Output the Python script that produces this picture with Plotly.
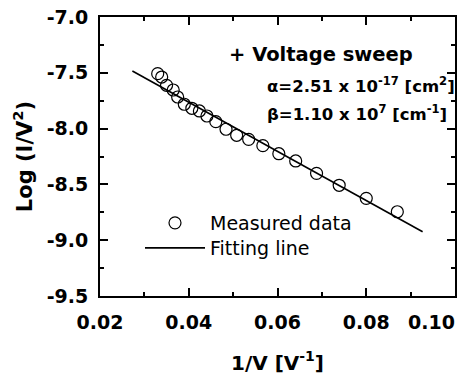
import plotly.graph_objects as go

inv_v = [0.0330, 0.0339, 0.0350, 0.0365, 0.0375, 0.0390, 0.0407, 0.0424, 0.0441, 0.0461,
         0.0484, 0.0508, 0.0535, 0.0567, 0.0603, 0.0641, 0.0688, 0.0739, 0.0800, 0.0870]
log_iv2 = [-7.508, -7.538, -7.612, -7.654, -7.717, -7.782, -7.818, -7.842, -7.887, -7.938,
           -8.006, -8.060, -8.096, -8.153, -8.225, -8.290, -8.401, -8.508, -8.625, -8.745]
fit_x = [0.0273, 0.0927]
fit_y = [-7.484, -8.924]

x_ticks = [0.02, 0.04, 0.06, 0.08, 0.10]
x_tick_labels = ["0.02", "0.04", "0.06", "0.08", "0.10"]
y_ticks = [-7.0, -7.5, -8.0, -8.5, -9.0, -9.5]
y_tick_labels = ["-7.0", "-7.5", "-8.0", "-8.5", "-9.0", "-9.5"]

FONT = "DejaVu Sans, Arial, sans-serif"

fig = go.Figure()
fig.add_trace(go.Scatter(
    x=inv_v, y=log_iv2, mode="markers", name="Measured data", legend="legend",
    marker=dict(symbol="circle-open", size=12, color="black", line=dict(width=1.2, color="black")),
))
fig.add_trace(go.Scatter(
    x=fit_x, y=fit_y, mode="lines", name="Fitting line", legend="legend2",
    line=dict(color="black", width=1.6),
))

tick_font = dict(family=FONT, size=19, color="black", weight="bold")
axis_common = dict(
    showline=True, linecolor="black", linewidth=2, mirror="allticks",
    ticks="inside", ticklen=8, tickwidth=2, tickcolor="black",
    showgrid=False, zeroline=False, automargin=False,
    tickfont=tick_font,
)

# last x tick label is drawn right-aligned to the axis end (as in the reference)
x_tick_text = x_tick_labels[:-1] + [""]

fig.update_xaxes(
    range=[0.02, 0.10], tickvals=x_ticks, ticktext=x_tick_text,
    ticklabelstandoff=8,
    minor=dict(ticks="inside", ticklen=4, tickwidth=2, tickcolor="black", dtick=0.01, tick0=0.02),
    title=dict(text="1/V [V<sup>-1</sup>]", font=dict(family=FONT, size=20, color="black", weight="bold"), standoff=24),
    **axis_common,
)
fig.update_yaxes(
    range=[-9.5, -7.0], tickvals=y_ticks, ticktext=y_tick_labels,
    ticklabelstandoff=6,
    minor=dict(ticks="inside", ticklen=4, tickwidth=2, tickcolor="black", dtick=0.25, tick0=-7.0),
    title=dict(text="Log (I/V<sup>2</sup>)", font=dict(family=FONT, size=21, color="black", weight="bold"), standoff=8),
    **axis_common,
)

L, R, T, B = 100, 455, 17, 296
W, H = 460, 381
def px(xp, yp):
    return (xp - L) / (R - L), (B - yp) / (B - T)

anno_font = dict(family=FONT, color="black")
anns = [
    ("+ Voltage sweep", 19.5, (227, 55)),
    ("α=2.51 x 10<sup>-17</sup> [cm<sup>2</sup>]", 16.5, (265, 85)),
    ("β=1.10 x 10<sup>7</sup> [cm<sup>-1</sup>]", 16.5, (265, 113)),
]
for text, size, (xl, yc) in anns:
    ax, ay = px(xl, yc)
    fig.add_annotation(x=ax, y=ay, xref="paper", yref="paper", xanchor="left", yanchor="middle",
                       text=text, showarrow=False, font=dict(size=size, weight="bold", **anno_font))

ex, ey = px(457, 322)
fig.add_annotation(x=ex, y=ey, xref="paper", yref="paper", xanchor="right", yanchor="middle",
                   text=x_tick_labels[-1], showarrow=False, font=tick_font)

l1x, l1y = px(140, 223)
l2x, l2y = px(140, 248)
leg_common = dict(xanchor="left", yanchor="middle", bgcolor="rgba(0,0,0,0)",
                  font=dict(family=FONT, size=19, color="black"), itemwidth=60)
fig.update_layout(
    width=W, height=H,
    margin=dict(l=L, r=W - R, t=T, b=H - B, autoexpand=False),
    paper_bgcolor="white", plot_bgcolor="white",
    showlegend=True,
    legend=dict(x=l1x, y=l1y, **leg_common),
    legend2=dict(x=l2x, y=l2y, **leg_common),
)

fig.write_html("out.html")
